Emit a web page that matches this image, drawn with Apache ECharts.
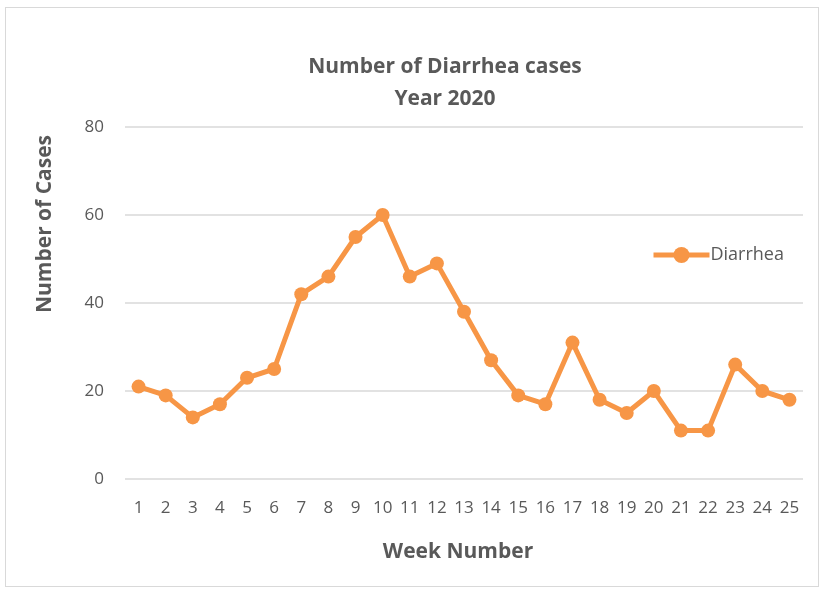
<!DOCTYPE html>
<html><head><meta charset="utf-8">
<script src="https://cdn.jsdelivr.net/npm/echarts@6/dist/echarts.min.js"></script>
<style>html,body{margin:0;padding:0;background:#fff}
#frame{position:absolute;left:5px;top:7px;width:812px;height:578px;border:1px solid #d9d9d9;}
#c{position:absolute;left:0;top:0;width:824px;height:592px}</style>
</head><body><div id="frame"></div><div id="c"></div>
<script>
var weeks = ['1','2','3','4','5','6','7','8','9','10','11','12','13','14','15','16','17','18','19','20','21','22','23','24','25'];
var diarrhea = [21,19,14,17,23,25,42,46,55,60,46,49,38,27,19,17,31,18,15,20,11,11,26,20,18];
var yTicks = [0,20,40,60,80];
var ff = '"Open Sans", "DejaVu Sans", sans-serif';
var chart = echarts.init(document.getElementById('c'));
chart.setOption({
  animation:false,
  title:{text:'Number of Diarrhea cases\nYear 2020',left:440,top:46,textAlign:'center',
    textStyle:{fontFamily:ff,fontSize:21,fontWeight:'bold',color:'#595959',lineHeight:32}},
  legend:{data:['Diarrhea'],left:646,top:241,orient:'vertical',itemWidth:56,itemHeight:20,
    lineStyle:{width:5},
    textStyle:{fontFamily:ff,fontSize:18,color:'#595959',padding:[0,0,0,-4]}, itemGap:4},
  grid:{left:125,right:21,top:127,bottom:113},
  graphic:[{type:'text',x:45,y:224,rotation:Math.PI/2,
    style:{text:'Number of Cases',font:'bold 21px '+ff,fill:'#595959',textAlign:'center',textVerticalAlign:'middle'}}],
  xAxis:{type:'category',data:weeks,boundaryGap:true,
    name:'Week Number',nameLocation:'middle',nameGap:63,
    nameTextStyle:{fontFamily:ff,fontSize:21,fontWeight:'bold',color:'#595959',padding:[0,12,0,0]},
    axisLine:{show:false},axisTick:{show:false},
    axisLabel:{fontFamily:ff,fontSize:17,color:'#595959',margin:21,interval:0}},
  yAxis:{type:'value',min:yTicks[0],max:yTicks[yTicks.length-1],interval:20,
    axisLine:{show:false},axisTick:{show:false},
    axisLabel:{fontFamily:ff,fontSize:17,color:'#595959',margin:21},
    splitLine:{lineStyle:{color:'#d9d9d9',width:1.5}}},
  series:[{name:'Diarrhea',type:'line',data:diarrhea,symbol:'circle',symbolSize:14,
    lineStyle:{color:'#F79646',width:5},itemStyle:{color:'#F79646'}}]
});
</script></body></html>
